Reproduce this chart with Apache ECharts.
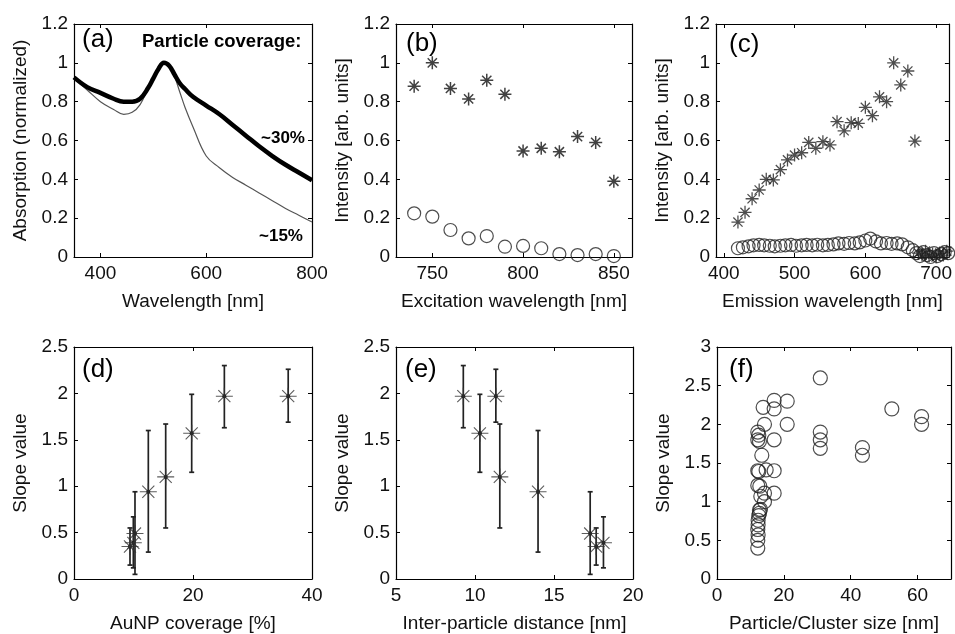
<!DOCTYPE html>
<html>
<head>
<meta charset="utf-8">
<title>Absorption, excitation and slope panels</title>
<script src="https://cdn.jsdelivr.net/npm/echarts@6/dist/echarts.min.js"></script>
<style>
    html, body { margin: 0; padding: 0; background: #fff; }
    #main { width: 955px; height: 634px; }
</style>
</head>
<body>
    <div id="main"></div>
</body>
<script>
    // (a) absorption spectra
    var aWave  = [350, 375, 400, 425, 444, 460, 475, 490, 500, 510, 520, 530, 540, 550, 560, 575, 600, 625, 650, 675, 700, 725, 750, 775, 800];
    var aCov30 = [0.925, 0.875, 0.845, 0.815, 0.80, 0.80, 0.815, 0.87, 0.92, 0.97, 1.0, 0.985, 0.94, 0.895, 0.865, 0.825, 0.78, 0.735, 0.68, 0.625, 0.57, 0.52, 0.475, 0.435, 0.395];
    var aCov15 = [0.92, 0.86, 0.80, 0.76, 0.735, 0.745, 0.785, 0.87, 0.925, 0.975, 1.0, 0.98, 0.93, 0.85, 0.77, 0.67, 0.52, 0.46, 0.41, 0.37, 0.33, 0.29, 0.25, 0.215, 0.18];

    // (b) excitation scan
    var bWave   = [740, 750, 760, 770, 780, 790, 800, 810, 820, 830, 840, 850];
    var bStar   = [0.88, 1.0, 0.868, 0.814, 0.91, 0.838, 0.546, 0.56, 0.542, 0.62, 0.59, 0.39];
    var bCircle = [0.225, 0.208, 0.139, 0.096, 0.108, 0.053, 0.057, 0.045, 0.015, 0.01, 0.015, 0.005];

    // (c) emission spectra
    var cStarWave = [420, 430, 440, 450, 460, 470, 480, 490, 500, 510, 520, 530, 540, 550, 560, 570, 580, 590, 600, 610, 620, 630, 640, 650, 660, 670,
                     675, 680, 685, 690, 695, 700, 705, 710, 715];
    var cStar     = [0.18, 0.23, 0.30, 0.345, 0.40, 0.397, 0.45, 0.50, 0.525, 0.537, 0.59, 0.56, 0.594, 0.577, 0.697, 0.65, 0.692, 0.688, 0.771, 0.728, 0.825, 0.80, 1.0, 0.886, 0.958, 0.597,
                     0.02, 0.01, 0.03, 0.005, 0.015, 0.0, 0.02, 0.01, 0.03];
    var cCircleWave = [420, 427, 435, 442, 450, 457, 465, 472, 480, 487, 495, 502, 510, 517, 525, 532, 540, 547, 555, 562, 570, 577, 585, 592, 600, 607, 615, 622, 630, 637, 645, 652, 660, 667,
                       672, 677, 682, 687, 692, 697, 702, 707, 712, 717];
    var cCircle     = [0.045, 0.05, 0.055, 0.06, 0.062, 0.06, 0.058, 0.055, 0.058, 0.06, 0.062, 0.058, 0.06, 0.062, 0.06, 0.063, 0.06, 0.062, 0.065, 0.07, 0.068, 0.072, 0.07, 0.075, 0.085, 0.095, 0.08, 0.07, 0.072, 0.068, 0.07, 0.065, 0.05, 0.035,
                       0.02, 0.005, 0.025, 0.01, 0.0, 0.02, 0.005, 0.015, 0.025, 0.02];

    // (d), (e) slope values with error bars
    var dCoverage = [9.41, 9.97, 10.25, 12.49, 15.41, 19.78, 25.27, 36.0];
    var eDistance = [17.67, 18.13, 17.29, 13.99, 11.57, 10.31, 9.26, 11.32];
    var slope     = [0.35, 0.39, 0.49, 0.94, 1.10, 1.57, 1.97, 1.97];
    var slopeLo   = [0.15, 0.12, 0.05, 0.29, 0.55, 1.15, 1.63, 1.69];
    var slopeHi   = [0.55, 0.67, 0.94, 1.60, 1.67, 1.99, 2.30, 2.26];

    // (f) slope vs particle/cluster size
    var fSize  = [12.2, 12.2, 12.3, 12.2, 12.3, 12.3, 12.5, 12.7, 13.0, 12.7, 12.2, 12.8, 13.1, 12.2, 12.5, 13.4, 12.2, 12.7, 12.2, 12.5, 14.2, 13.8, 14.2, 14.7, 14.2,
                  17.1, 17.1, 17.1, 17.1, 17.1, 21.0, 21.0, 30.9, 30.9, 30.9, 30.9, 43.5, 43.5, 52.3, 61.2, 61.2];
    var fSlope = [0.40, 0.50, 0.57, 0.64, 0.70, 0.76, 0.82, 0.85, 0.90, 0.89, 1.21, 1.20, 1.07, 1.40, 1.39, 1.60, 1.80, 1.78, 1.90, 1.86, 2.00, 2.22, 1.00, 1.41, 1.11,
                  2.31, 2.20, 1.80, 1.40, 1.11, 2.30, 2.00, 2.60, 1.90, 1.80, 1.69, 1.70, 1.60, 2.20, 2.10, 2.00];

    var tickA = [400, 600, 800];
    var tickB = [750, 800, 850];
    var tickC = [400, 500, 600, 700];
    var tickD = [0, 20, 40];
    var tickE = [5, 10, 15, 20];
    var tickF = [0, 20, 40, 60];
    var tickInt = [0, 0.2, 0.4, 0.6, 0.8, 1, 1.2];
    var tickSlope = [0, 0.5, 1, 1.5, 2, 2.5];
    var tickSlope3 = [0, 0.5, 1, 1.5, 2, 2.5, 3];

    var FONT = '"Liberation Sans", Arial, sans-serif';
    var STAR = 'path://M10,0L10,20M0,10L20,10M2.9,2.9L17.1,17.1M2.9,17.1L17.1,2.9';

    function pairs(xs, ys) {
        var out = [];
        for (var i = 0; i < xs.length; i++) out.push([xs[i], ys[i]]);
        return out;
    }

    var grids = [
        {left: 74,  top: 24,  width: 238, height: 233},
        {left: 396, top: 24,  width: 236, height: 233},
        {left: 716, top: 24,  width: 235, height: 233},
        {left: 74,  top: 347, width: 238, height: 232},
        {left: 396, top: 347, width: 237, height: 232},
        {left: 717, top: 347, width: 234, height: 232}
    ];

    var xAxes = [], yAxes = [];
    function addX(gi, min, max, ticks, name) {
        xAxes.push({
            gridIndex: gi, type: 'value', min: min, max: max, position: 'bottom',
            name: name, nameLocation: 'middle', nameGap: 35,
            nameTextStyle: {fontSize: 19, color: '#111', fontFamily: FONT},
            axisLine: {onZero: false, lineStyle: {color: '#000', width: 1.2}},
            axisTick: {inside: true, length: 4, customValues: ticks, lineStyle: {color: '#000'}},
            axisLabel: {customValues: ticks, fontSize: 19, color: '#111', fontFamily: FONT, margin: 7},
            splitLine: {show: false}
        });
        xAxes.push({
            gridIndex: gi, type: 'value', min: min, max: max, position: 'top',
            axisLine: {onZero: false, lineStyle: {color: '#000', width: 1.2}},
            axisTick: {inside: true, length: 4, customValues: ticks, lineStyle: {color: '#000'}},
            axisLabel: {show: false},
            splitLine: {show: false}
        });
    }
    function addY(gi, min, max, ticks, name) {
        yAxes.push({
            gridIndex: gi, type: 'value', min: min, max: max, position: 'left',
            name: name, nameLocation: 'middle', nameGap: 44, nameRotate: 90,
            nameTextStyle: {fontSize: 19, color: '#111', fontFamily: FONT},
            axisLine: {show: true, onZero: false, lineStyle: {color: '#000', width: 1.2}},
            axisTick: {show: true, inside: true, length: 4, customValues: ticks, lineStyle: {color: '#000'}},
            axisLabel: {customValues: ticks, fontSize: 19, color: '#111', fontFamily: FONT, margin: 6},
            splitLine: {show: false}
        });
        yAxes.push({
            gridIndex: gi, type: 'value', min: min, max: max, position: 'right',
            axisLine: {show: true, onZero: false, lineStyle: {color: '#000', width: 1.2}},
            axisTick: {show: true, inside: true, length: 4, customValues: ticks, lineStyle: {color: '#000'}},
            axisLabel: {show: false},
            splitLine: {show: false}
        });
    }

    addX(0, 350, 800, tickA, 'Wavelength [nm]');
    addX(1, 730, 860, tickB, 'Excitation wavelength [nm]');
    addX(2, 389, 718, tickC, 'Emission wavelength [nm]');
    addX(3, 0, 40, tickD, 'AuNP coverage [%]');
    addX(4, 5, 20, tickE, 'Inter-particle distance [nm]');
    addX(5, 0, 70, tickF, 'Particle/Cluster size [nm]');
    addY(0, 0, 1.2, tickInt, 'Absorption (normalized)');
    addY(1, 0, 1.2, tickInt, 'Intensity [arb. units]');
    addY(2, 0, 1.2, tickInt, 'Intensity [arb. units]');
    addY(3, 0, 2.5, tickSlope, 'Slope value');
    addY(4, 0, 2.5, tickSlope, 'Slope value');
    addY(5, 0, 3, tickSlope3, 'Slope value');

    function starSeries(gi, data, size, color, width) {
        return {
            type: 'scatter', xAxisIndex: gi * 2, yAxisIndex: gi * 2, data: data,
            symbol: STAR, symbolSize: size, silent: true,
            itemStyle: {color: 'rgba(0,0,0,0)', borderColor: color, borderWidth: width}
        };
    }
    function circleSeries(gi, data, size) {
        return {
            type: 'scatter', xAxisIndex: gi * 2, yAxisIndex: gi * 2, data: data,
            symbol: 'circle', symbolSize: size, silent: true,
            itemStyle: {color: 'rgba(0,0,0,0)', borderColor: '#222', borderWidth: 1.2}
        };
    }
    function errorSeries(gi, xs) {
        var data = [];
        for (var i = 0; i < xs.length; i++) data.push([xs[i], slope[i], slopeLo[i], slopeHi[i]]);
        return {
            type: 'custom', xAxisIndex: gi * 2, yAxisIndex: gi * 2, data: data, silent: true,
            renderItem: function (params, api) {
                var x = api.value(0);
                var top = api.coord([x, api.value(3)]);
                var bot = api.coord([x, api.value(2)]);
                var mid = api.coord([x, api.value(1)]);
                var w = 2.5;
                var st = {stroke: '#222', lineWidth: 1.7};
                return {type: 'group', children: [
                    {type: 'line', shape: {x1: top[0], y1: top[1], x2: bot[0], y2: bot[1]}, style: st},
                    {type: 'line', shape: {x1: top[0] - w, y1: top[1], x2: top[0] + w, y2: top[1]}, style: st},
                    {type: 'line', shape: {x1: bot[0] - w, y1: bot[1], x2: bot[0] + w, y2: bot[1]}, style: st},
                    {type: 'circle', shape: {cx: mid[0], cy: mid[1], r: 2}, style: {fill: '#000'}}
                ]};
            }
        };
    }

    var series = [
        {type: 'line', xAxisIndex: 0, yAxisIndex: 0, data: pairs(aWave, aCov15), smooth: 0.4, showSymbol: false, silent: true,
         lineStyle: {color: '#555', width: 1.2}},
        {type: 'line', xAxisIndex: 0, yAxisIndex: 0, data: pairs(aWave, aCov30), smooth: 0.4, showSymbol: false, silent: true,
         lineStyle: {color: '#000', width: 4.5}},
        starSeries(1, pairs(bWave, bStar), 13, '#111', 1.5),
        circleSeries(1, pairs(bWave, bCircle), 13),
        circleSeries(2, pairs(cCircleWave, cCircle), 13),
        starSeries(2, pairs(cStarWave, cStar), 13, '#222', 1.3),
        errorSeries(3, dCoverage),
        starSeries(3, pairs(dCoverage, slope), 17, '#333', 1.1),
        errorSeries(4, eDistance),
        starSeries(4, pairs(eDistance, slope), 17, '#333', 1.1),
        circleSeries(5, pairs(fSize, fSlope), 14)
    ];

    function label(text, left, top, size, bold) {
        return {
            type: 'text', left: left, top: top, silent: true,
            style: {text: text, fontSize: size, fontWeight: bold ? 'bold' : 'normal', fontFamily: FONT, fill: '#000'}
        };
    }

    var graphic = [
        label('(a)', 82, 27, 26),
        label('(b)', 406, 31, 26),
        label('(c)', 729, 32, 26),
        label('(d)', 82, 357, 26),
        label('(e)', 405, 357, 26),
        label('(f)', 729, 357, 26),
        label('Particle coverage:', 142, 32, 18.5, true),
        label('~30%', 261, 130, 17, true),
        label('~15%', 259, 228, 17, true)
    ];

    var myChart = echarts.init(document.getElementById('main'));
    var option = {
        animation: false,
        backgroundColor: '#fff',
        grid: grids,
        xAxis: xAxes,
        yAxis: yAxes,
        series: series,
        graphic: graphic
    };
    myChart.setOption(option);
</script>
</html>
